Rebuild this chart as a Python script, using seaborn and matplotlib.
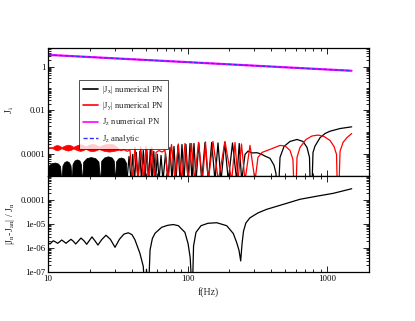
import matplotlib

matplotlib.use("Agg")

import matplotlib.pyplot as plt
import seaborn as sns
from matplotlib.lines import Line2D
from matplotlib.ticker import FixedLocator, FuncFormatter, LogLocator, NullFormatter

# ---- data (f in Hz) ----
JZ_FREQ = [10.0, 100.0, 1000.0, 1500.0]
JZ_NUMERICAL = [3.4, 1.58, 0.73, 0.64]
JZ_ANALYTIC = [3.4, 1.58, 0.73, 0.64]

# |Jx|: fast oscillation below 37 Hz shows as filled humps (upper envelope)
JX_HUMP_FREQ = [10.0, 10.2, 10.6, 11.2, 11.8, 12.2, 12.5,
                12.7, 13.1, 13.6, 14.1, 14.5, 14.8,
                15.0, 15.5, 16.1, 16.8, 17.2, 17.5,
                17.9, 18.9, 20.3, 21.8, 23.0, 23.6,
                24.1, 25.3, 26.9, 28.6, 29.6, 30.2,
                30.7, 31.8, 33.4, 35.0, 36.2, 36.8]
JX_HUMP_ENV = [2.5e-5, 3.2e-5, 3.8e-5, 4.1e-5, 3.7e-5, 2.8e-5, 5e-6,
               3e-5, 4.3e-5, 4.8e-5, 4.3e-5, 3e-5, 5e-6,
               3.5e-5, 5.1e-5, 5.7e-5, 5.1e-5, 3.5e-5, 5e-6,
               4.5e-5, 6.5e-5, 7.3e-5, 6.5e-5, 4.5e-5, 5e-6,
               5e-5, 7e-5, 7.9e-5, 7e-5, 5e-5, 5e-6,
               4.5e-5, 6.3e-5, 7e-5, 6.2e-5, 4e-5, 5e-6]
# |Jx|: individual arches, zeros and tops
JX_ZERO_FREQ = [36.84, 39.36, 41.7, 44.2, 46.8, 49.6, 52.5, 55.7, 59.0, 62.5, 66.7, 72.5,
                77.4, 82.7, 88.4, 94.4, 100.8, 107.7, 115.1, 126.5, 141.0, 157.4, 173.8,
                196.1, 225.3, 244.6]
JX_PEAK_FREQ = [38.1, 40.5, 42.95, 45.5, 48.2, 51.1, 54.1, 57.3, 60.8, 64.6, 69.6, 74.9,
                80.0, 85.5, 91.3, 97.5, 104.2, 111.3, 120.5, 133.5, 149.1, 165.4, 184.8,
                210.2, 234.8]
JX_PEAK_VAL = [7.9e-5, 9.7e-5, 1.19e-4, 1.33e-4, 1.47e-4, 1.64e-4, 1.64e-4, 1.33e-4,
               9.7e-5, 8.7e-5, 1.08e-4, 2.02e-4, 2.24e-4, 2.49e-4, 2.76e-4, 2.76e-4,
               3.06e-4, 3.06e-4, 3.23e-4, 3.4e-4, 3.4e-4, 3.23e-4, 3.4e-4, 3.23e-4, 3.06e-4]
JX_TAIL_FREQ = [258.3, 271.5, 290.0, 313.4, 336.5, 359.4, 390.4, 417.0, 431.0, 439.5,
                460.5, 491.7, 543.0, 609.5, 673.0, 719.0, 749.0, 768.0, 793.6, 820.0,
                891.0, 967.6, 1051.0, 1240.0, 1503.0]
JX_TAIL_VAL = [9.7e-5, 1.37e-4, 1.13e-4, 1.16e-4, 1.02e-4, 8.1e-5, 6.4e-5, 3.1e-5, 1.3e-5,
               1e-7, 7.1e-5, 2.24e-4, 3.78e-4, 4.66e-4, 3.78e-4, 2.02e-4, 7.1e-5, 1e-7,
               1.19e-4, 2.31e-4, 5.6e-4, 8.7e-4, 1.11e-3, 1.47e-3, 1.76e-3]

# |Jy|: modulated band below 32 Hz (lower / upper edge)
JY_BAND_FREQ = [10.0, 10.8, 11.2, 11.6, 12.0, 12.5, 13.3, 13.9, 14.5, 15.2, 16.2, 17.0,
                17.8, 18.6, 19.7, 20.7, 21.8, 23.2, 25.2, 27.4, 29.6, 31.8]
JY_BAND_LO = [1.9e-4, 1.85e-4, 1.6e-4, 1.5e-4, 1.6e-4, 1.85e-4, 1.55e-4, 1.45e-4,
              1.55e-4, 1.8e-4, 1.5e-4, 1.4e-4, 1.5e-4, 1.75e-4, 1.45e-4, 1.35e-4,
              1.45e-4, 1.7e-4, 1.4e-4, 1.3e-4, 1.4e-4, 1.55e-4]
JY_BAND_HI = [2.05e-4, 2.1e-4, 2.45e-4, 2.6e-4, 2.45e-4, 2.1e-4, 2.5e-4, 2.7e-4,
              2.55e-4, 2.15e-4, 2.6e-4, 2.8e-4, 2.6e-4, 2.2e-4, 2.7e-4, 2.9e-4,
              2.75e-4, 2.2e-4, 2.75e-4, 2.95e-4, 2.75e-4, 1.9e-4]
JY_LINK_FREQ = [31.8, 33.4, 35.1, 36.8, 38.7]
JY_LINK_VAL = [1.6e-4, 1.45e-4, 1.6e-4, 1.35e-4, 1.5e-4]
JY_ZERO_FREQ = [40.3, 44.2, 48.4, 53.0, 58.0]
JY_PEAK_FREQ = [42.05, 46.2, 50.4, 55.4]
JY_PEAK_VAL = [2.1e-4, 2.24e-4, 2.24e-4, 2.1e-4]
JY_WAVE_FREQ = [59.5, 62.5, 65.6, 69.0]
JY_WAVE_VAL = [1.2e-4, 1.45e-4, 1.25e-4, 1.5e-4]
JY_ZERO2_FREQ = [72.5, 81.4, 90.9, 101.3, 112.2, 128.1, 141.0, 166.3, 207.4, 230.0,
                 258.3, 304.7]
JY_PEAK2_FREQ = [76.8, 85.9, 95.96, 106.8, 119.9, 134.6, 152.3, 185.7, 219.0, 243.8, 280.5]
JY_PEAK2_VAL = [2.76e-4, 2.91e-4, 3.06e-4, 3.06e-4, 3.4e-4, 3.6e-4, 3.8e-4, 3.8e-4,
                3.4e-4, 2.9e-4, 2.5e-4]
JY_TAIL_FREQ = [320.0, 342.0, 390.0, 460.5, 500.0, 543.0, 570.0, 590.0, 609.5, 640.6,
                707.0, 780.0, 862.0, 951.0, 1051.0, 1122.0, 1170.0, 1199.0, 1240.0,
                1302.0, 1391.0, 1503.0]
JY_TAIL_VAL = [7.1e-5, 1.19e-4, 1.64e-4, 2.49e-4, 2.37e-4, 1.47e-4, 5.7e-5, 1e-7, 7.1e-5,
               2.02e-4, 4.66e-4, 6.7e-4, 7.4e-4, 6.4e-4, 4.2e-4, 2.24e-4, 9.7e-5, 1e-7,
               1.33e-4, 3.4e-4, 5.7e-4, 8.7e-4]
ARCH_FLOOR = 6e-6

# relative error |Jn - Jan| / Jn
REL_FREQ = [10.0, 10.34, 10.6, 10.91, 11.3, 11.73, 12.1, 12.54, 13.0, 13.46, 14.0, 14.62,
            15.2, 15.8, 16.5, 17.24, 18.1, 18.94, 19.8, 20.66, 21.7, 22.8, 24.3, 26.05,
            28.0, 30.22, 32.5, 35.0, 37.64, 40.0, 42.0, 45.6, 48.2, 49.6, 50.8, 52.4,
            53.9, 56.0, 58.5, 65.3, 72.0, 79.1, 86.0, 95.8, 101.0, 104.5, 108.2, 110.5,
            115.0, 125.0, 140.0, 162.0, 191.0, 213.0, 225.0, 234.0, 240.6, 246.0, 252.0,
            262.0, 280.0, 320.0, 370.0, 486.0, 640.0, 850.0, 1110.0, 1503.0]
REL_ERR = [1.65e-6, 1.47e-6, 1.7e-6, 2.0e-6, 1.8e-6, 1.57e-6, 1.8e-6, 2.15e-6, 1.85e-6,
           1.57e-6, 1.9e-6, 2.3e-6, 1.9e-6, 1.47e-6, 1.95e-6, 2.6e-6, 2.0e-6, 1.43e-6,
           2.05e-6, 2.9e-6, 2.0e-6, 1.33e-6, 2.25e-6, 3.4e-6, 2.3e-6, 1.07e-6, 2.3e-6,
           3.8e-6, 4.3e-6, 3.6e-6, 2.2e-6, 6e-7, 1.7e-7, 1e-8, 1.3e-7, 1e-8, 8.3e-7,
           2.5e-6, 4.1e-6, 7.3e-6, 8.8e-6, 9.5e-6, 8.5e-6, 4.5e-6, 1.5e-6, 4e-7, 1e-8,
           1.2e-6, 4.5e-6, 8.5e-6, 1.07e-5, 1.13e-5, 8.5e-6, 4e-6, 1.7e-6, 8e-7, 2.9e-7,
           1.5e-6, 5e-6, 1.1e-5, 1.8e-5, 2.9e-5, 4.1e-5, 6.6e-5, 1.07e-4, 1.45e-4,
           1.9e-4, 2.95e-4]


def arches(zero_freq, peak_freq, peak_val, floor):
    """Interleave zero crossings and tops into one polyline."""
    freq, val = [], []
    for i, z in enumerate(zero_freq):
        freq.append(z)
        val.append(floor)
        if i < len(peak_freq):
            freq.append(peak_freq[i])
            val.append(peak_val[i])
    return freq, val


def style_axis(ax):
    ax.set_xscale("log")
    ax.set_yscale("log")
    ax.set_xlim(10, 2000)
    ax.xaxis.set_major_locator(FixedLocator([10, 100, 1000]))
    ax.xaxis.set_minor_locator(LogLocator(base=10, subs=range(2, 10)))
    ax.xaxis.set_minor_formatter(NullFormatter())
    ax.tick_params(which="both", direction="in", top=True, right=True,
                   width=0.6, labelsize=6.3, pad=2, colors="black")
    ax.tick_params(which="major", length=4)
    ax.tick_params(which="minor", length=2)
    for spine in ax.spines.values():
        spine.set_linewidth(0.9)
        spine.set_color("black")


sns.set_theme(style="ticks")
plt.rcParams["font.family"] = ["Liberation Serif", "DejaVu Serif"]
plt.rcParams["mathtext.fontset"] = "stix"

fig = plt.figure(figsize=(4.15, 3.21), dpi=100)
ax_top = fig.add_axes([48 / 415, 1 - 176 / 321, 321 / 415, 128 / 321])
ax_bot = fig.add_axes([48 / 415, 1 - 272 / 321, 321 / 415, 96 / 321])
for ax in (ax_top, ax_bot):
    style_axis(ax)

# ---- top panel ----
ax_top.fill_between(JX_HUMP_FREQ, 1e-7, JX_HUMP_ENV, color="black", lw=0.6)
jx_f, jx_v = arches(JX_ZERO_FREQ, JX_PEAK_FREQ, JX_PEAK_VAL, ARCH_FLOOR)
jx_f += JX_TAIL_FREQ
jx_v += JX_TAIL_VAL
sns.lineplot(x=jx_f, y=jx_v, ax=ax_top, color="black", lw=0.9, estimator=None, sort=False)

ax_top.fill_between(JY_BAND_FREQ, JY_BAND_LO, JY_BAND_HI, color="red", lw=0.5)
jy1_f, jy1_v = arches(JY_ZERO_FREQ, JY_PEAK_FREQ, JY_PEAK_VAL, ARCH_FLOOR)
jy2_f, jy2_v = arches(JY_ZERO2_FREQ, JY_PEAK2_FREQ, JY_PEAK2_VAL, ARCH_FLOOR)
jy_f = JY_LINK_FREQ + jy1_f + JY_WAVE_FREQ + jy2_f + JY_TAIL_FREQ
jy_v = JY_LINK_VAL + jy1_v + JY_WAVE_VAL + jy2_v + JY_TAIL_VAL
sns.lineplot(x=jy_f, y=jy_v, ax=ax_top, color="red", lw=0.9, estimator=None, sort=False)

sns.lineplot(x=JZ_FREQ, y=JZ_NUMERICAL, ax=ax_top, color="magenta", lw=1.6,
             estimator=None, sort=False)
sns.lineplot(x=JZ_FREQ, y=JZ_ANALYTIC, ax=ax_top, color="#3333ff", lw=0.9,
             linestyle=(0, (3, 1.5)), estimator=None, sort=False)

ax_top.set_ylim(1e-5, 7)
ax_top.yaxis.set_major_locator(FixedLocator([1e-4, 1e-2, 1]))
ax_top.yaxis.set_major_formatter(FuncFormatter(lambda v, _: {1e-4: "0.0001", 1e-2: "0.01", 1: "1"}.get(v, "")))
ax_top.yaxis.set_minor_locator(LogLocator(base=10, subs=range(1, 10)))
ax_top.yaxis.set_minor_formatter(NullFormatter())
ax_top.tick_params(labelbottom=False)
ax_top.set_ylabel(r"J$_{\mathrm{i}}$", fontsize=7.5)
ax_top.yaxis.set_label_coords(-0.1, 0.52)

handles = [
    Line2D([], [], color="black", lw=1.2),
    Line2D([], [], color="red", lw=1.2),
    Line2D([], [], color="magenta", lw=1.2),
    Line2D([], [], color="#3333ff", lw=1.0, linestyle=(0, (3, 1.5))),
]
labels = [
    r"|J$_{\mathrm{x}}$| numerical PN",
    r"|J$_{\mathrm{y}}$| numerical PN",
    r"J$_{\mathrm{z}}$ numerical PN",
    r"J$_{\mathrm{z}}$ analytic",
]
leg = ax_top.legend(handles, labels, loc="upper left", bbox_to_anchor=(0.097, 0.75),
                    fontsize=6.2, frameon=True, fancybox=False, handlelength=1.7,
                    handletextpad=0.5, labelspacing=0.55, borderpad=0.45,
                    borderaxespad=0.0)
leg.get_frame().set_edgecolor("black")
leg.get_frame().set_linewidth(0.6)

# ---- bottom panel ----
sns.lineplot(x=REL_FREQ, y=REL_ERR, ax=ax_bot, color="black", lw=0.9,
             estimator=None, sort=False)
ax_bot.set_ylim(1e-7, 1e-3)
ax_bot.yaxis.set_major_locator(FixedLocator([1e-7, 1e-6, 1e-5, 1e-4, 1e-3]))
bot_labels = {1e-7: "1e-07", 1e-6: "1e-06", 1e-5: "1e-05", 1e-4: "0.0001"}
ax_bot.yaxis.set_major_formatter(FuncFormatter(
    lambda v, _: next((t for k, t in bot_labels.items() if abs(v / k - 1) < 1e-6), "")))
ax_bot.yaxis.set_minor_locator(LogLocator(base=10, subs=range(2, 10)))
ax_bot.yaxis.set_minor_formatter(NullFormatter())
ax_bot.xaxis.set_major_formatter(FuncFormatter(lambda v, _: f"{v:g}"))
ax_bot.set_xlabel("f(Hz)", fontsize=7, labelpad=3)
ax_bot.set_ylabel(r"|J$_{\mathrm{n}}$-J$_{\mathrm{an}}$| / J$_{\mathrm{n}}$", fontsize=7)
ax_bot.yaxis.set_label_coords(-0.097, 0.5)

fig.savefig("out.png", dpi=100)
